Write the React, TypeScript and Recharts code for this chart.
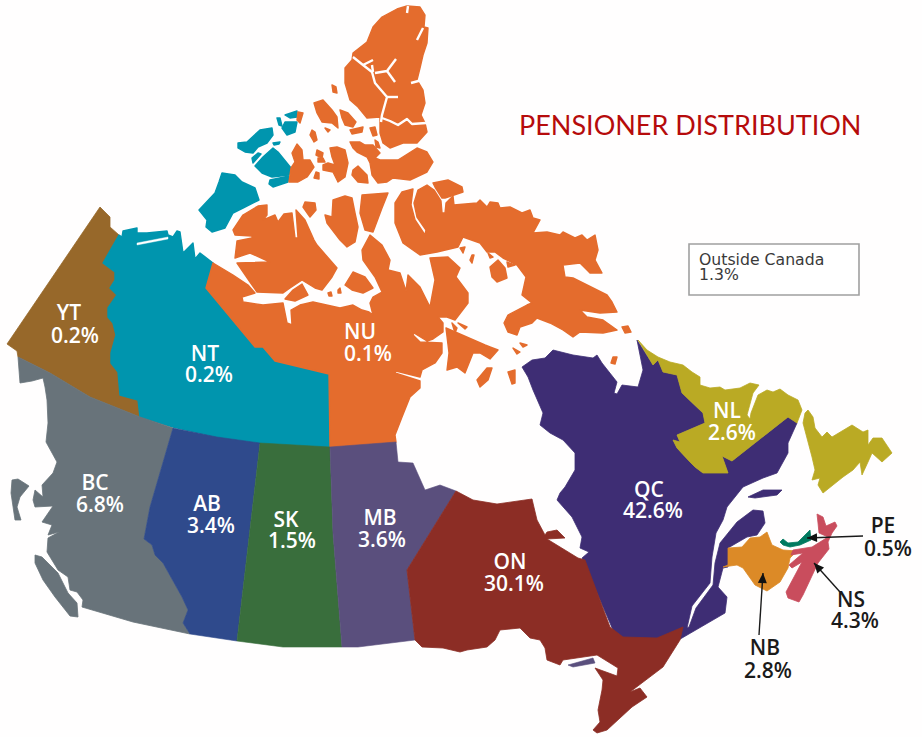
import { ReferenceArea, Scatter, ScatterChart, XAxis, YAxis } from "recharts";

type Ring = [number, number][];

// outlines, in picture units
const yukon: Ring[] = [
  [[100,207],[110,217],[110,227],[119,235],[103,263],[115,272],[115,280],[110,288],[117,295],[108,308],[108,317],[113,323],[116,335],[111,353],[111,363],[118,372],[120,395],[138,400],[140,417],[90,397],[50,373],[18,357],[17,351],[7,344]],
];
const northwest: Ring[] = [
  [[119,235],[122,237],[123,231],[137,228],[137,233],[147,233],[167,231],[168,235],[173,237],[177,231],[180,232],[183,253],[193,243],[195,259],[200,253],[213,263],[206,288],[255,347],[263,347],[275,361],[329,374],[330,447],[260,443],[217,437],[173,427],[140,417],[138,400],[120,395],[118,372],[111,363],[111,353],[116,335],[113,323],[108,317],[108,308],[117,295],[110,288],[115,280],[115,272],[103,263]],
  [[222,173],[235,175],[242,182],[255,188],[259,200],[243,208],[233,213],[225,228],[212,232],[206,227],[207,220],[199,210],[215,193],[219,182]],
  [[273,148],[278,152],[291,168],[289,175],[272,177],[262,173],[255,166],[263,157]],
  [[270,180],[289,176],[288,182],[273,187],[269,184]],
  [[238,143],[247,142],[260,130],[272,128],[273,135],[267,143],[258,147],[253,153],[245,152],[238,148]],
  [[252,158],[258,153],[261,154],[253,163]],
  [[273,143],[280,142],[279,144],[274,145]],
  [[285,115],[297,111],[297,117],[290,118]],
  [[285,122],[297,122],[295,132],[287,135],[282,128]],
  [[277,118],[280,118],[282,126],[279,125]],
];
const nunavut: Ring[] = [
  // mainland
  [[213,263],[233,275],[248,285],[255,293],[242,297],[243,302],[263,305],[283,303],[287,323],[292,325],[291,310],[300,305],[313,302],[340,308],[353,305],[362,310],[369,312],[373,315],[370,303],[373,297],[382,292],[375,277],[363,260],[362,250],[370,235],[382,245],[390,260],[388,270],[400,273],[406,291],[408,275],[420,287],[430,307],[435,280],[430,258],[448,257],[460,268],[456,277],[468,293],[468,303],[455,320],[447,317],[438,317],[443,323],[443,332],[433,339],[427,341],[414,333],[413,335],[420,342],[442,343],[442,353],[435,363],[422,370],[420,377],[396,371],[395,373],[420,381],[420,388],[410,397],[402,417],[395,435],[396,442],[330,447],[329,374],[275,361],[263,347],[255,347],[206,288]],
  // Victoria
  [[233,230],[243,215],[258,206],[267,205],[267,215],[263,220],[275,215],[278,222],[284,214],[292,213],[295,238],[298,238],[296,210],[305,220],[314,240],[317,245],[337,268],[332,277],[322,290],[315,288],[302,280],[290,288],[283,293],[257,292],[250,282],[237,263],[270,262],[250,253],[235,258],[237,241],[252,238],[252,236],[235,235]],
  [[285,299],[293,290],[302,284],[308,295],[295,301]],
  // Ellesmere block, cut by the channels below
  [[345,68],[352,60],[353,53],[367,42],[373,27],[382,17],[397,9],[407,6],[420,7],[425,15],[424,27],[428,28],[427,43],[423,55],[420,68],[417,80],[423,90],[425,103],[421,115],[425,123],[427,132],[417,143],[403,143],[390,148],[383,143],[380,133],[380,117],[367,118],[358,107],[350,100],[345,83]],
  [[332,85],[336,87],[337,93],[333,92]],
  [[314,103],[323,100],[332,110],[337,117],[338,128],[332,123],[322,122],[317,113]],
  [[340,110],[348,113],[356,122],[353,127],[345,125],[342,118]],
  [[350,130],[363,127],[362,132],[352,134]],
  [[370,128],[375,127],[377,135],[373,136]],
  [[325,128],[330,130],[328,132]],
  [[298,112],[303,113],[300,123],[297,120]],
  [[312,130],[315,132],[317,140],[314,142],[310,135]],
  [[375,140],[378,142],[380,148],[376,147]],
  [[297,144],[302,150],[303,160],[310,160],[314,167],[307,177],[298,182],[289,182],[291,168],[295,162],[292,153]],
  [[317,150],[323,153],[322,158],[316,155]],
  [[318,158],[323,158],[325,162],[318,162]],
  [[316,172],[319,173],[319,179],[314,178]],
  [[330,148],[337,147],[345,150],[348,163],[345,177],[338,182],[333,172],[323,170],[323,165],[328,163],[335,165],[332,157]],
  [[353,170],[358,166],[367,175],[368,183],[358,182],[352,175]],
  [[350,142],[360,142],[365,145],[373,145],[380,153],[375,158],[380,160],[398,160],[417,148],[427,152],[433,162],[427,172],[410,180],[393,178],[387,182],[378,183],[372,175],[370,163],[367,157],[357,152],[353,148]],
  [[305,202],[315,203],[316,210],[310,217],[303,207]],
  [[333,200],[345,196],[352,198],[355,213],[358,227],[355,242],[347,247],[340,240],[327,223],[325,215],[332,217]],
  [[362,195],[388,193],[382,208],[373,232],[365,230],[360,213]],
  [[353,272],[365,277],[373,288],[363,293],[352,290],[345,285]],
  [[328,293],[331,292],[332,296],[329,296]],
  [[338,290],[340,288],[341,293],[338,293]],
  // Baffin
  [[395,223],[395,203],[402,192],[413,189],[411,205],[415,220],[425,235],[426,230],[417,217],[414,203],[418,190],[427,185],[434,190],[441,201],[442,213],[445,213],[446,203],[453,196],[454,205],[477,203],[480,200],[487,207],[490,202],[498,203],[500,208],[510,207],[522,213],[530,210],[533,218],[540,220],[533,233],[547,232],[560,235],[563,232],[575,238],[582,235],[587,240],[595,235],[598,250],[595,260],[602,273],[590,273],[580,263],[563,265],[565,277],[573,278],[587,285],[607,295],[612,302],[617,312],[600,313],[580,310],[587,317],[603,320],[617,330],[603,333],[580,332],[573,337],[563,330],[550,323],[537,318],[532,323],[520,327],[517,335],[508,332],[504,323],[508,315],[527,305],[532,303],[522,295],[526,277],[517,265],[503,258],[495,252],[487,252],[480,243],[463,237],[458,247],[437,252],[420,255],[403,243]],
  [[433,183],[448,180],[462,187],[463,192],[445,198],[442,198],[435,187]],
  [[490,267],[498,260],[505,268],[507,278],[497,282],[492,277]],
  [[507,262],[515,265],[508,267]],
  [[472,255],[474,255],[472,263],[470,260]],
  [[460,248],[465,247],[463,253]],
  [[488,253],[493,257],[490,258]],
  [[622,327],[628,326],[631,332],[625,333]],
  [[446,328],[485,345],[490,347],[498,350],[490,359],[480,353],[473,353],[465,373],[457,367],[447,370],[449,353]],
  [[487,368],[492,368],[488,380],[480,387],[477,380]],
  [[508,372],[515,370],[515,383],[512,384]],
  [[513,348],[520,352],[517,354]],
  [[520,343],[527,345],[523,347]],
  [[452,323],[457,328],[455,333]],
  [[458,323],[467,327],[465,329]],
  [[613,357],[617,357],[615,364],[611,363]],
];
const britishColumbia: Ring[] = [
  [[18,357],[50,373],[90,397],[140,417],[173,428],[150,507],[144,539],[152,545],[155,555],[163,563],[182,597],[188,610],[183,623],[190,634],[133,622],[82,607],[83,600],[77,592],[70,590],[68,577],[58,570],[47,552],[48,538],[59,532],[48,535],[52,525],[42,522],[53,506],[35,507],[33,500],[35,490],[43,497],[42,485],[53,473],[57,462],[46,442],[48,423],[47,400],[45,387],[43,378],[32,381],[20,383]],
  [[35,555],[42,557],[58,573],[68,593],[77,603],[78,617],[70,616],[55,597],[43,580],[35,563]],
  [[12,480],[18,479],[29,486],[20,497],[17,507],[21,520],[15,520],[11,493]],
];
const alberta: Ring[] = [
  [[173,428],[217,437],[260,443],[237,641],[190,634],[183,623],[188,610],[182,597],[163,563],[155,555],[152,545],[144,539],[150,507]],
];
const saskatchewan: Ring[] = [
  [[260,443],[330,447],[333,533],[342,647],[283,647],[237,641]],
];
const manitoba: Ring[] = [
  [[330,447],[396,442],[398,462],[413,463],[425,490],[440,485],[456,491],[407,570],[415,640],[358,647],[342,647],[333,533]],
  [[568,665],[593,658],[595,663],[573,667]],
];
const ontario: Ring[] = [
  [[456,491],[473,500],[497,504],[532,499],[537,520],[545,535],[547,532],[557,530],[565,538],[547,539],[578,558],[585,560],[610,627],[623,637],[657,638],[683,627],[680,640],[663,667],[630,692],[640,688],[647,697],[632,707],[607,730],[597,733],[593,730],[600,722],[598,710],[602,690],[603,680],[595,668],[617,676],[618,668],[597,655],[563,660],[560,665],[547,660],[545,648],[540,640],[530,638],[520,628],[500,630],[495,640],[487,647],[467,650],[460,652],[443,648],[422,647],[415,640],[407,570]],
];
const quebec: Ring[] = [
  [[522,367],[532,360],[545,358],[553,350],[573,355],[593,358],[597,355],[602,363],[617,382],[614,393],[617,394],[622,385],[638,387],[643,370],[637,340],[653,365],[658,360],[663,372],[677,375],[682,393],[703,413],[705,423],[677,435],[680,442],[673,440],[677,448],[690,462],[695,467],[703,473],[728,473],[722,456],[732,461],[788,417],[797,423],[788,443],[788,453],[777,473],[763,478],[743,487],[727,507],[723,520],[716,533],[712,557],[710,583],[692,606],[687,628],[689,627],[696,608],[713,585],[715,563],[720,543],[737,522],[753,510],[763,511],[765,523],[757,535],[747,537],[728,548],[728,567],[723,568],[718,587],[727,597],[725,613],[682,638],[670,645],[640,645],[615,635],[610,623],[582,558],[589,552],[580,548],[582,537],[572,517],[557,500],[560,493],[565,487],[575,470],[575,453],[563,440],[550,433],[540,425],[543,413],[533,390],[528,377]],
  [[748,497],[763,490],[782,490],[777,495],[755,498]],
];
const newfoundland: Ring[] = [
  [[638,340],[653,365],[658,360],[663,372],[677,375],[682,393],[703,413],[705,423],[677,435],[680,442],[673,440],[677,448],[690,462],[695,467],[703,473],[728,473],[722,456],[732,461],[788,417],[797,423],[802,410],[798,400],[788,395],[780,389],[773,392],[767,390],[758,395],[751,413],[750,419],[747,415],[753,393],[759,385],[750,383],[740,388],[725,390],[720,387],[710,388],[700,385],[700,377],[692,372],[683,365],[670,362],[658,357],[647,350]],
  [[808,410],[813,417],[815,428],[822,437],[827,432],[832,437],[852,425],[863,432],[868,430],[868,445],[873,438],[882,438],[892,453],[882,462],[872,453],[868,462],[862,475],[860,462],[853,470],[843,477],[823,493],[818,485],[820,478],[812,480],[815,470],[812,457],[803,423],[805,413]],
];
const newBrunswick: Ring[] = [
  [[728,548],[742,547],[750,538],[760,537],[767,532],[770,540],[772,545],[783,550],[797,551],[790,558],[788,568],[780,582],[767,591],[755,585],[743,568],[737,565],[723,567],[728,565]],
];
const novaScotia: Ring[] = [
  [[817,514],[823,517],[826,526],[835,522],[837,526],[832,533],[828,542],[829,549],[818,563],[803,595],[799,602],[788,598],[786,592],[802,562],[792,568],[789,565],[803,553],[791,555],[793,550],[812,547],[828,537],[819,533],[818,523]],
];
const princeEdward: Ring[] = [
  [[780,542],[783,539],[788,543],[798,542],[807,533],[810,530],[811,540],[800,545],[790,547],[783,545]],
];
// white water cut into the land
const inlets: Ring[] = [
  [[137,243],[168,237],[168,239],[137,245]],
];
const channels: Ring[] = [
  [[353,57],[363,65],[372,72],[375,83],[387,97],[382,115],[381,122]],
  [[382,118],[390,121],[398,125],[407,119],[412,124],[426,123]],
  [[387,97],[398,97]],
  [[375,73],[387,71],[396,59]],
  [[387,71],[395,82]],
  [[363,65],[373,60]],
  [[372,65],[373,72]],
  [[423,28],[417,40]],
  [[408,6],[407,13]],
  [[411,83],[422,80]],
];

const regions = ["YT", "NT", "NU", "BC", "AB", "SK", "MB", "ON", "QC", "NL", "NB", "NS", "PE"];
const shares = [0.2, 0.2, 0.1, 6.8, 3.4, 1.5, 3.6, 30.1, 42.6, 2.6, 2.8, 4.3, 0.5];
const outsideShare = 1.3;
const title = "PENSIONER DISTRIBUTION";

// label anchors: [name centre x, name baseline, share centre x, share baseline]
const labelAnchors = [
  [69, 320, 75, 343],
  [205, 361, 209, 382],
  [360, 339, 368, 361],
  [95, 490, 100, 512],
  [207, 511, 211, 533],
  [286, 527, 292, 548],
  [380, 525, 382, 547],
  [510, 569, 514, 591],
  [649, 497, 653, 518],
  [727, 418, 732, 440],
  [765, 655, 768, 678],
  [851, 607, 855, 628],
  [883, 533, 888, 556],
];

const peArrow: Ring = [[863, 536], [807, 538]];
const nsArrow: Ring = [[840, 592], [814, 563]];
const nbArrow: Ring = [[759, 635], [763, 573]];

// quebec sits under ontario so their shared border stays closed
const layers: [Ring[], string, number][] = [
  [yukon, "#97682a", 0.8],
  [northwest, "#0095ae", 1.4],
  [nunavut, "#e46c2d", 1.4],
  [britishColumbia, "#68737a", 0.8],
  [alberta, "#2f4a8c", 0.6],
  [saskatchewan, "#396e3c", 0.6],
  [manitoba, "#5a4f7d", 0.6],
  [quebec, "#3e2d74", 0.8],
  [ontario, "#8c2d25", 0.8],
  [newfoundland, "#baaa24", 0.8],
  [newBrunswick, "#dc8a27", 0.8],
  [novaScotia, "#c94d5d", 0.8],
  [princeEdward, "#007a60", 0.8],
  [inlets, "#ffffff", 0.4],
];

const toPoints = (ring: Ring) => ring.map(([x, y]) => ({ x, y }));
const noDot = () => <g />;

const labelFont = { fontFamily: "'Open Sans', sans-serif", fontWeight: 600, fontSize: 21 };

// one text per point, first line at the point, second at (x2, y2) relative to it
const textShape = (style: Record<string, unknown>) => (p: any) => {
  const d = p.payload;
  return (
    <text textAnchor={d.anchor ?? "middle"} {...style}>
      <tspan x={p.cx} y={p.cy}>{d.text}</tspan>
      {d.second && (
        <tspan x={p.cx + d.dx} y={p.cy + d.dy}>{d.second}</tspan>
      )}
    </text>
  );
};

// the tail-to-tip line with a small arrow head at the tip
const arrowLine = (p: any) => {
  const [a, b] = p.points;
  const angle = Math.atan2(b.y - a.y, b.x - a.x);
  const head = (off: number) =>
    `${b.x - 11 * Math.cos(angle + off)},${b.y - 11 * Math.sin(angle + off)}`;
  return (
    <g>
      <line x1={a.x} y1={a.y} x2={b.x} y2={b.y} stroke="#1a1a1a" strokeWidth={1.4} />
      <polygon points={`${b.x},${b.y} ${head(0.42)} ${head(-0.42)}`} fill="#111" />
    </g>
  );
};

function labelPoint(i: number) {
  const [nx, ny, sx, sy] = labelAnchors[i];
  return {
    x: nx,
    y: ny,
    text: regions[i],
    second: `${shares[i].toFixed(1)}%`,
    dx: sx - nx,
    dy: sy - ny,
  };
}

const whiteLabels = regions.slice(0, 10).map((_, i) => labelPoint(i));
const blackLabels = regions.slice(10).map((_, i) => labelPoint(i + 10));

export default function App() {
  return (
    <div style={{ position: "absolute", left: 0, top: 0, width: 922, height: 737, background: "#fffefe" }}>
      <ScatterChart width={922} height={737} margin={{ top: 0, right: 0, bottom: 0, left: 0 }}>
        <XAxis type="number" dataKey="x" domain={[0, 922]} hide />
        <YAxis type="number" dataKey="y" domain={[0, 737]} reversed hide />
        {layers.flatMap(([rings, color, width], i) =>
          rings.map((ring, j) => (
            <Scatter
              key={`${i}-${j}`}
              data={toPoints(ring)}
              shape={noDot}
              line={{ fill: color, stroke: color, strokeWidth: width, strokeLinejoin: "round" }}
              lineJointType="linearClosed"
              isAnimationActive={false}
            />
          )),
        )}
        {channels.map((channel, i) => (
          <Scatter
            key={`c${i}`}
            data={toPoints(channel)}
            shape={noDot}
            line={{ stroke: "#fffefe", strokeWidth: 2.4, strokeLinejoin: "round" }}
            isAnimationActive={false}
          />
        ))}
        {[peArrow, nsArrow, nbArrow].map((arrow, i) => (
          <Scatter key={i} data={toPoints(arrow)} shape={noDot} line={arrowLine} isAnimationActive={false} />
        ))}
        <ReferenceArea x1={689} x2={859} y1={244} y2={295} fill="#ffffff" fillOpacity={1} stroke="#a0a0a0" strokeWidth={1.6} />
        <Scatter
          data={whiteLabels}
          shape={textShape({ ...labelFont, fill: "#ffffff" })}
          isAnimationActive={false}
        />
        <Scatter
          data={blackLabels}
          shape={textShape({ ...labelFont, fill: "#1a1a1a" })}
          isAnimationActive={false}
        />
        <Scatter
          data={[{ x: 519, y: 135, text: title, anchor: "start" }]}
          shape={textShape({ fontFamily: "Lato, sans-serif", fontSize: 27, fill: "#b60b0b" })}
          isAnimationActive={false}
        />
        <Scatter
          data={[{ x: 699, y: 265, text: "Outside Canada", second: `${outsideShare}%`, dx: 0, dy: 15, anchor: "start" }]}
          shape={textShape({ fontFamily: "'DejaVu Sans', sans-serif", fontSize: 15.7, fill: "#3a3a3a" })}
          isAnimationActive={false}
        />
      </ScatterChart>
    </div>
  );
}
